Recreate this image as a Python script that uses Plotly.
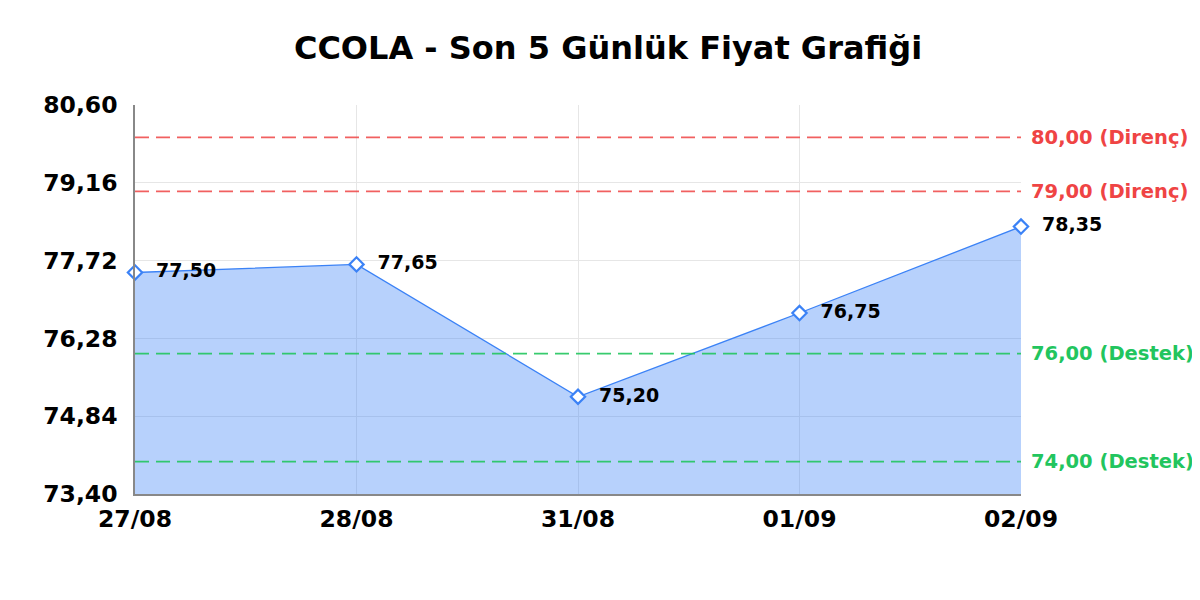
import plotly.graph_objects as go

dates = ["27/08", "28/08", "31/08", "01/09", "02/09"]
prices = [77.50, 77.65, 75.20, 76.75, 78.35]
y_ticks = [73.40, 74.84, 76.28, 77.72, 79.16, 80.60]
resistance_levels = [80.00, 79.00]
support_levels = [76.00, 74.00]
title_text = "CCOLA - Son 5 Günlük Fiyat Grafiği"

BLUE = "#3b82f6"
RED = "#ef4444"
GREEN = "#22c55e"
FONT = "DejaVu Sans"

fig = go.Figure()
fig.add_trace(go.Scatter(
    x=dates, y=prices,
    mode="lines+markers+text",
    line=dict(color=BLUE, width=1.3),
    fill="tozeroy",
    fillcolor="rgba(59,130,246,0.37)",
    marker=dict(symbol="diamond", size=11, color="white", line=dict(color=BLUE, width=2.2)),
    text=["  " + f"{v:.2f}".replace(".", ",") for v in prices],
    textposition="middle right",
    textfont=dict(family=FONT, size=19, color="black", weight="bold"),
    cliponaxis=False,
    hoverinfo="skip",
))

shapes = []
annotations = []
for lvl in resistance_levels:
    shapes.append(dict(type="line", xref="paper", x0=0, x1=1, yref="y", y0=lvl, y1=lvl,
                       line=dict(color="rgba(239,68,68,0.85)", width=1.8, dash="14px,7px")))
    annotations.append(dict(xref="paper", x=1, yref="y", y=lvl, xanchor="left", xshift=8,
                            text=f"{lvl:.2f}".replace(".", ",") + " (Direnç)", showarrow=False,
                            font=dict(family=FONT, size=19.5, color=RED, weight="bold")))
for lvl in support_levels:
    shapes.append(dict(type="line", xref="paper", x0=0, x1=1, yref="y", y0=lvl, y1=lvl,
                       line=dict(color="rgba(34,197,94,0.9)", width=1.8, dash="14px,7px")))
    annotations.append(dict(xref="paper", x=1, yref="y", y=lvl, xanchor="left", xshift=8,
                            text=f"{lvl:.2f}".replace(".", ",") + " (Destek)", showarrow=False,
                            font=dict(family=FONT, size=19.5, color=GREEN, weight="bold")))

fig.update_layout(
    width=1200, height=600,
    paper_bgcolor="white", plot_bgcolor="white",
    margin=dict(l=127, r=187, t=97, b=114),
    separators=",.",
    showlegend=False,
    title=dict(text=title_text, x=0.5, xanchor="center", y=0.933, yanchor="middle",
               font=dict(family=FONT, size=32, color="black", weight="bold")),
    shapes=shapes,
    annotations=annotations,
    xaxis=dict(type="category", range=[0, 4], showgrid=True, gridcolor="#e6e6e6",
               showline=True, linecolor="#888888", linewidth=1.5,
               ticks="outside", ticklen=3, tickcolor="rgba(0,0,0,0)",
               tickfont=dict(family=FONT, size=23.5, color="black", weight="bold"),
               zeroline=False),
    yaxis=dict(range=[73.40, 80.60], tickvals=y_ticks, tickformat=".2f",
               showgrid=True, gridcolor="#e6e6e6",
               showline=True, linecolor="#888888", linewidth=1.5,
               ticks="outside", ticklen=11, tickcolor="rgba(0,0,0,0)",
               tickfont=dict(family=FONT, size=23.5, color="black", weight="bold"),
               zeroline=False),
)

fig.write_html("out.html")
